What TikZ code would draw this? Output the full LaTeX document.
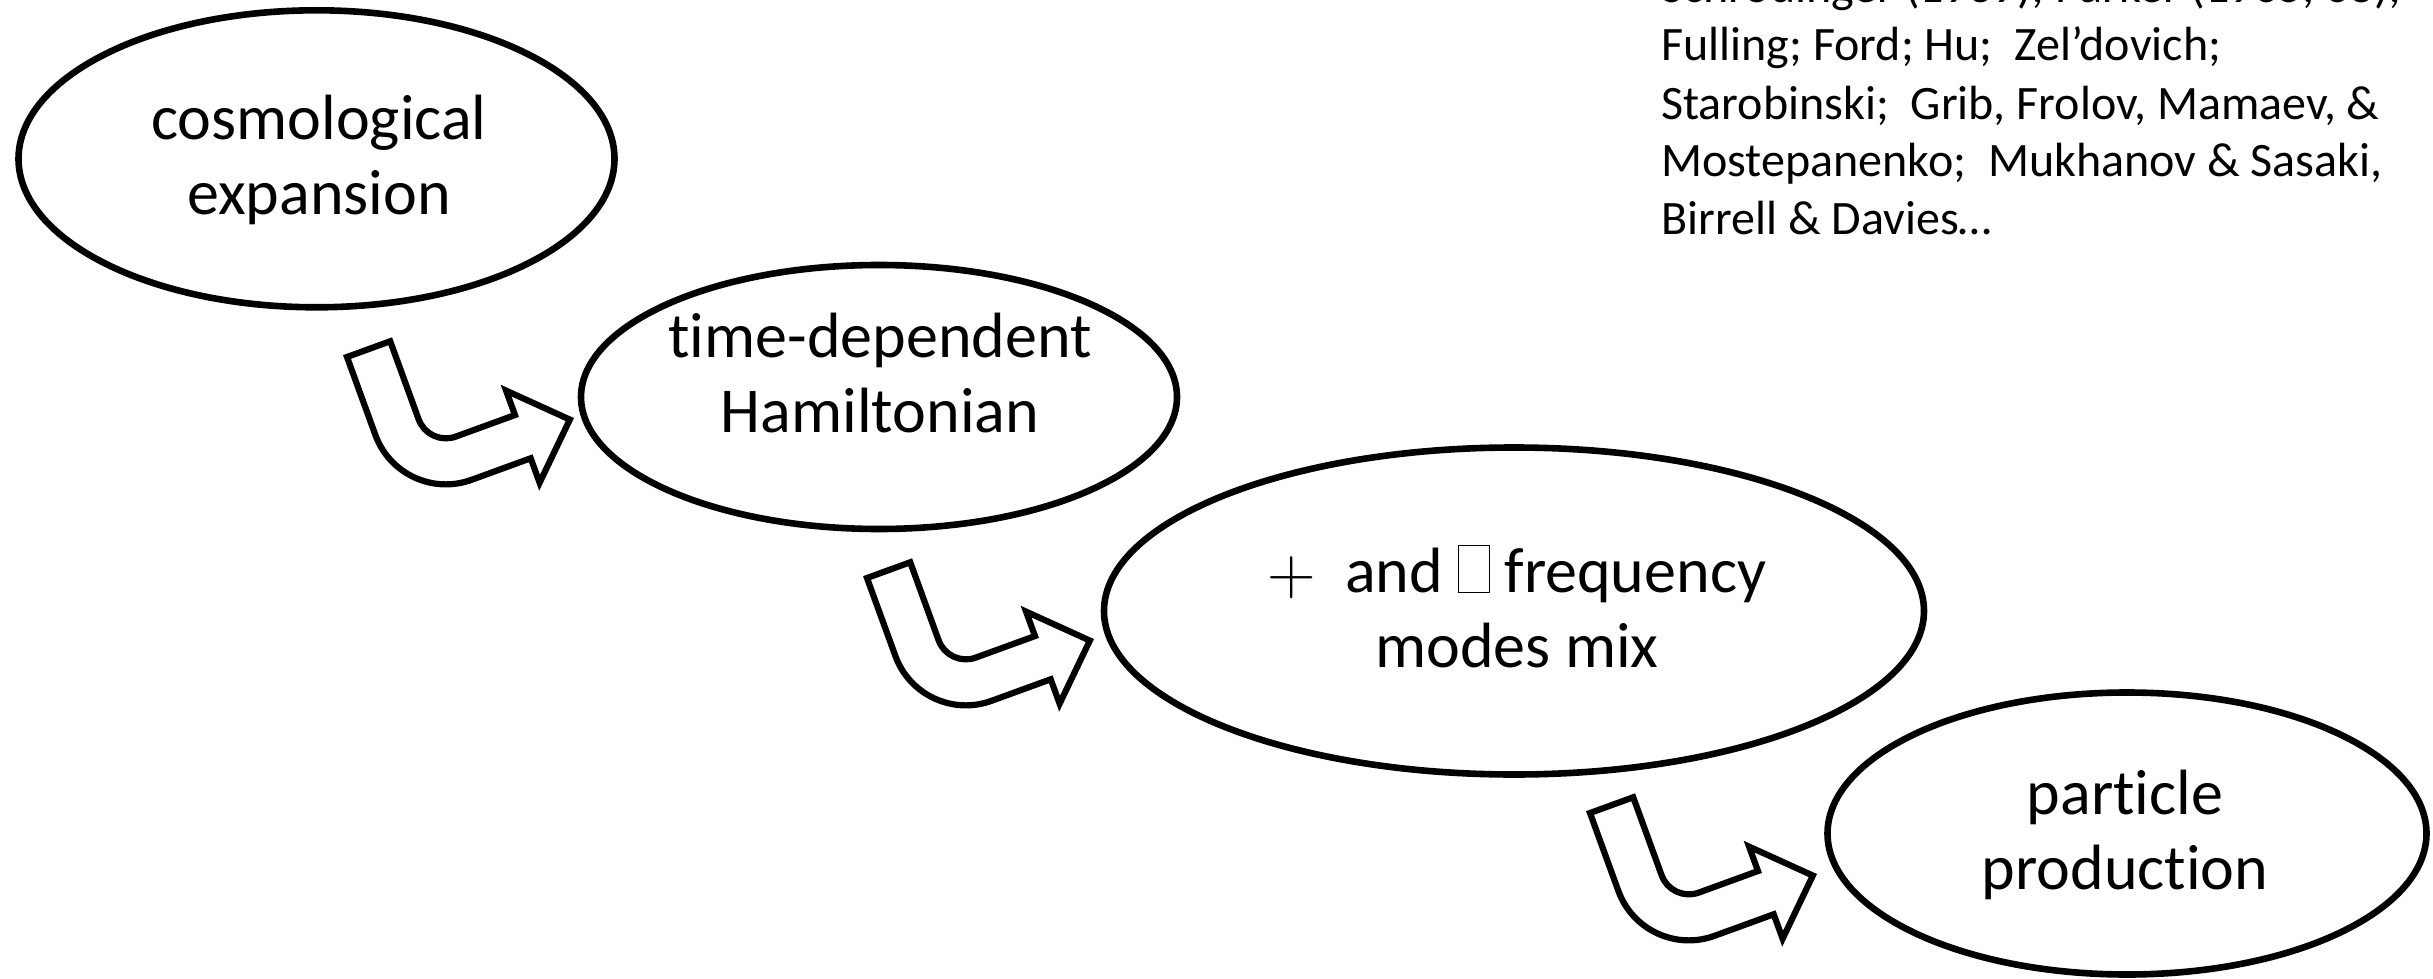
\documentclass[tikz,border=0pt]{standalone}
\usepackage{fontspec}
\setmainfont{Carlito}[Ligatures={NoCommon}]
\usetikzlibrary{shapes.geometric}
\newcommand\glyphbox{{\setlength\fboxsep{0pt}\setlength\fboxrule{0.6pt}\fbox{\rule{0pt}{23pt}\hspace{15pt}}}}
\newcommand\bigplus{\raisebox{-1pt}{\scalebox{1.35}{$+$}}}
\tikzset{
  ell/.style={draw, ellipse, line width=3.3pt, inner sep=0pt},
  lbl/.style={align=center, font=\fontsize{32pt}{37.5pt}\selectfont, inner sep=0pt},
  refs/.style={align=left, font=\fontsize{24pt}{29pt}\selectfont, inner sep=0pt, anchor=north west},
  arrowline/.style={draw, line width=3.1pt, fill=white, line join=miter},
  bentarrow/.pic={
    \path[arrowline] (0,0) -- (46,0) -- (46,-83)
      arc[start angle=180, end angle=270, radius=29]
      -- (138,-112) -- (138,-86) -- (188,-135) -- (138,-184) -- (138,-158) -- (75,-158)
      arc[start angle=270, end angle=180, radius=75]
      -- cycle;
  }
}
\begin{document}
\begin{tikzpicture}[x=0.5pt,y=0.5pt]
\useasboundingbox (0,0) rectangle (2433,-979);
\clip (0,0) rectangle (2433,-979);
\fill[white] (0,0) rectangle (2433,-979);

\node[ell, minimum width=298pt, minimum height=148.5pt] (e1) at (316.5,-158.8) {};
\node[ell, minimum width=298pt, minimum height=132pt] (e2) at (879,-397) {};
\node[ell, minimum width=410pt, minimum height=163.5pt] (e3) at (1514,-611) {};
\node[ell, minimum width=299.5pt, minimum height=141pt] (e4) at (2127,-833.5) {};

\node[lbl] (t1) at (319,-161.5) {\strut cosmological\\\strut expansion};
\node[lbl] (t2) at (880,-380) {\strut time-dependent\\\strut Hamiltonian};
\node[lbl] (t3) at (1517,-614.5) {\strut \bigplus\ \ and \glyphbox{} frequency\\\strut modes mix};
\node[lbl] (t4) at (2125,-837) {\strut particle\\\strut production};

\pic[rotate=20] (a1) at (347,-357) {bentarrow};
\pic[rotate=20] (a2) at (867,-578) {bentarrow};
\pic[rotate=20] (a3) at (1590,-813) {bentarrow};

\node[refs] (refs) at (1661,38) {\strut Schrödinger (1939); Parker (1965, 68);\\
\strut Fulling; Ford; Hu;\ \ Zel’dovich;\\
\strut Starobinski;\ \ Grib, Frolov, Mamaev, \&\\
\strut Mostepanenko;\ \ Mukhanov \& Sasaki,\\
\strut Birrell \& Davies…};
\end{tikzpicture}
\end{document}
